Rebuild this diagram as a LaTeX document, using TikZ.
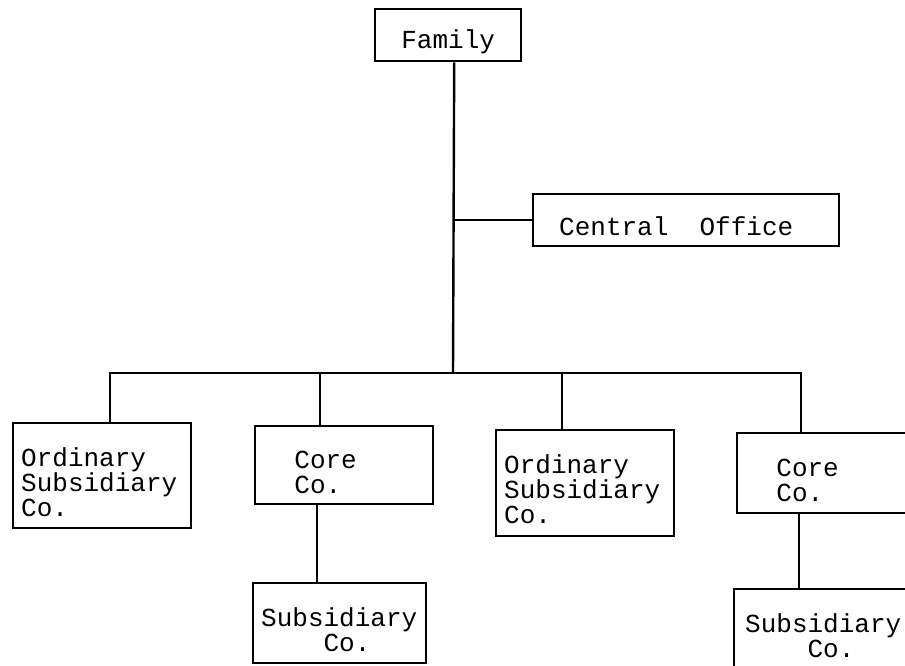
\documentclass[tikz,border=0pt]{standalone}
\usepackage{fontspec}
\setmonofont{Liberation Mono}
\usetikzlibrary{positioning}

% typewriter blanks
\newcommand{\typespaces}[1]{\hspace*{#1\fontdimen2\font}}

\begin{document}
\begin{tikzpicture}
	[	x=1pt, y=-1pt,
		block/.style={rectangle,draw=black,line width=2.4pt,anchor=north west,
			inner xsep=8pt,inner ysep=0pt,align=left,
			font=\ttfamily\fontsize{26}{25}\selectfont,
			execute at begin node={\rule{0pt}{31pt}}},
		unit/.style={block,minimum width=178pt,text width=162pt},
		link/.style={line width=2.4pt}	]
	\useasboundingbox (0,0) rectangle (905,666);
	\node[block,minimum width=146pt,minimum height=52pt,align=center] (family) at (374,8) {Family};
	\node[block,inner xsep=26pt,text width=254pt,minimum height=52pt] (office) at (532,193) {Central\typespaces{2}Office};
	\node[unit,minimum height=105pt] (ord1) at (12,422) {Ordinary\\Subsidiary\\Co.};
	\node[unit,minimum height=78pt] (core1) at (254,425) {\typespaces{2}Core\\\typespaces{2}Co.};
	\node[unit,minimum height=106pt] (ord2) at (495,429) {Ordinary\\Subsidiary\\Co.};
	\node[unit,minimum height=80pt] (core2) at (736,432) {\typespaces{2}Core\\\typespaces{2}Co.};
	\node[block,minimum width=173pt,text width=157pt,minimum height=80pt] (sub1) at (252,582) {Subsidiary\\\typespaces{4}Co.};
	\node[block,inner xsep=11pt,minimum width=178pt,text width=156pt,minimum height=80pt] (sub2) at (733,588) {Subsidiary\\\typespaces{4}Co.};
	\coordinate (bus) at (453,373);
	\draw[link] ([xshift=6pt]family.south) -- (bus);
	\draw[link] (office.west) -- (office.west -| bus);
	\draw[link] ([xshift=98pt]ord1.north west) |- (bus) -| ([xshift=65pt]core2.north west);
	\draw[link] ([xshift=66pt]core1.north west) |- (bus);
	\draw[link] ([xshift=67pt]ord2.north west) |- (bus);
	\draw[link] ([xshift=63pt]core1.south west) -- ([xshift=65pt]sub1.north west);
	\draw[link] ([xshift=63pt]core2.south west) -- ([xshift=66pt]sub2.north west);
\end{tikzpicture}
\end{document}
